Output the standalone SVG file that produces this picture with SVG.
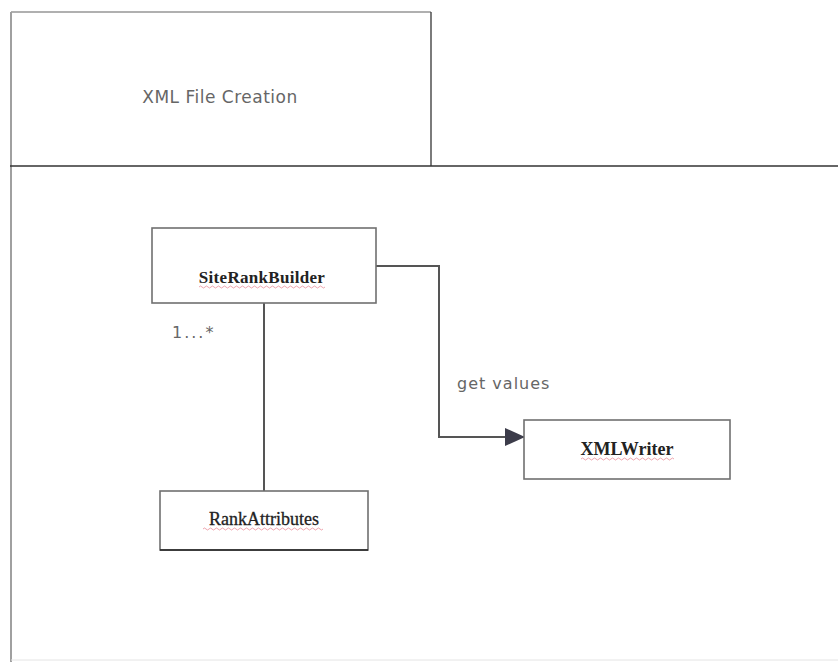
<svg xmlns="http://www.w3.org/2000/svg" width="838" height="662" viewBox="0 0 838 662">
<style>
.box{fill:#fff;stroke:#707070;stroke-width:1.6}
.conn{fill:none;stroke:#555;stroke-width:2}
.sans{font-family:"DejaVu Sans",Verdana,sans-serif;fill:#666}
.serif{font-family:"Liberation Serif","Times New Roman",serif;fill:#222}
.squig{fill:none;stroke:#e06070;stroke-width:0.8;opacity:0.7}
</style>
<defs>
<marker id="arr" viewBox="0 0 20 18" refX="20" refY="9" markerWidth="20" markerHeight="18" markerUnits="userSpaceOnUse" orient="auto">
<path d="M0,0 L20,9 L0,18 Z" fill="#3c3c4a"/>
</marker>
</defs>
<rect width="838" height="662" fill="#fff"/>
<g id="frame">
<line x1="11" y1="12" x2="431" y2="12" stroke="#b0b0b0" stroke-width="2"/>
<line x1="11" y1="12" x2="11" y2="662" stroke="#a0a0a0" stroke-width="2"/>
<line x1="431" y1="12" x2="431" y2="166" stroke="#444" stroke-width="1.4"/>
<line x1="10" y1="166" x2="838" y2="166" stroke="#333" stroke-width="1.6"/>
<line x1="11" y1="660" x2="838" y2="660" stroke="#e4e4e4" stroke-width="1"/>
<text class="sans" x="220" y="103" font-size="17" text-anchor="middle" letter-spacing="0.5">XML File Creation</text>
</g>
<g id="connectors">
<path class="conn" d="M376,266 H439 V437 H525" marker-end="url(#arr)"/>
<path class="conn" d="M264,303 V497 H271"/>
<text class="sans" x="457" y="389" font-size="16" letter-spacing="1">get values</text>
<text class="sans" x="172" y="338" font-size="16" letter-spacing="2">1...*</text>
</g>
<g id="SiteRankBuilder">
<rect class="box" x="152" y="228" width="224" height="75"/>
<text class="serif" x="262" y="283" font-size="17" font-weight="bold" text-anchor="middle" letter-spacing="0.3">SiteRankBuilder</text>
<path class="squig" d="M199,287 q1.5,-2 3,0 t3,0 t3,0 t3,0 t3,0 t3,0 t3,0 t3,0 t3,0 t3,0 t3,0 t3,0 t3,0 t3,0 t3,0 t3,0 t3,0 t3,0 t3,0 t3,0 t3,0 t3,0 t3,0 t3,0 t3,0 t3,0 t3,0 t3,0 t3,0 t3,0 t3,0 t3,0 t3,0 t3,0 t3,0 t3,0 t3,0 t3,0 t3,0 t3,0 t3,0 t3,0"/>
</g>
<g id="RankAttributes">
<rect class="box" x="160" y="491" width="208" height="59"/>
<line x1="160" y1="550" x2="368" y2="550" stroke="#222" stroke-width="1.6"/>
<text class="serif" x="264" y="525" font-size="18" text-anchor="middle" stroke="#222" stroke-width="0.3">RankAttributes</text>
<path class="squig" d="M203,529 q1.5,-2 3,0 t3,0 t3,0 t3,0 t3,0 t3,0 t3,0 t3,0 t3,0 t3,0 t3,0 t3,0 t3,0 t3,0 t3,0 t3,0 t3,0 t3,0 t3,0 t3,0 t3,0 t3,0 t3,0 t3,0 t3,0 t3,0 t3,0 t3,0 t3,0 t3,0 t3,0 t3,0 t3,0 t3,0 t3,0 t3,0 t3,0 t3,0 t3,0 t3,0"/>
</g>
<g id="XMLWriter">
<rect class="box" x="524" y="420" width="206" height="59"/>
<text class="serif" x="627" y="455" font-size="18" font-weight="bold" text-anchor="middle">XMLWriter</text>
<path class="squig" d="M581,459 q1.5,-2 3,0 t3,0 t3,0 t3,0 t3,0 t3,0 t3,0 t3,0 t3,0 t3,0 t3,0 t3,0 t3,0 t3,0 t3,0 t3,0 t3,0 t3,0 t3,0 t3,0 t3,0 t3,0 t3,0 t3,0 t3,0 t3,0 t3,0 t3,0 t3,0 t3,0 t3,0"/>
</g>
</svg>
